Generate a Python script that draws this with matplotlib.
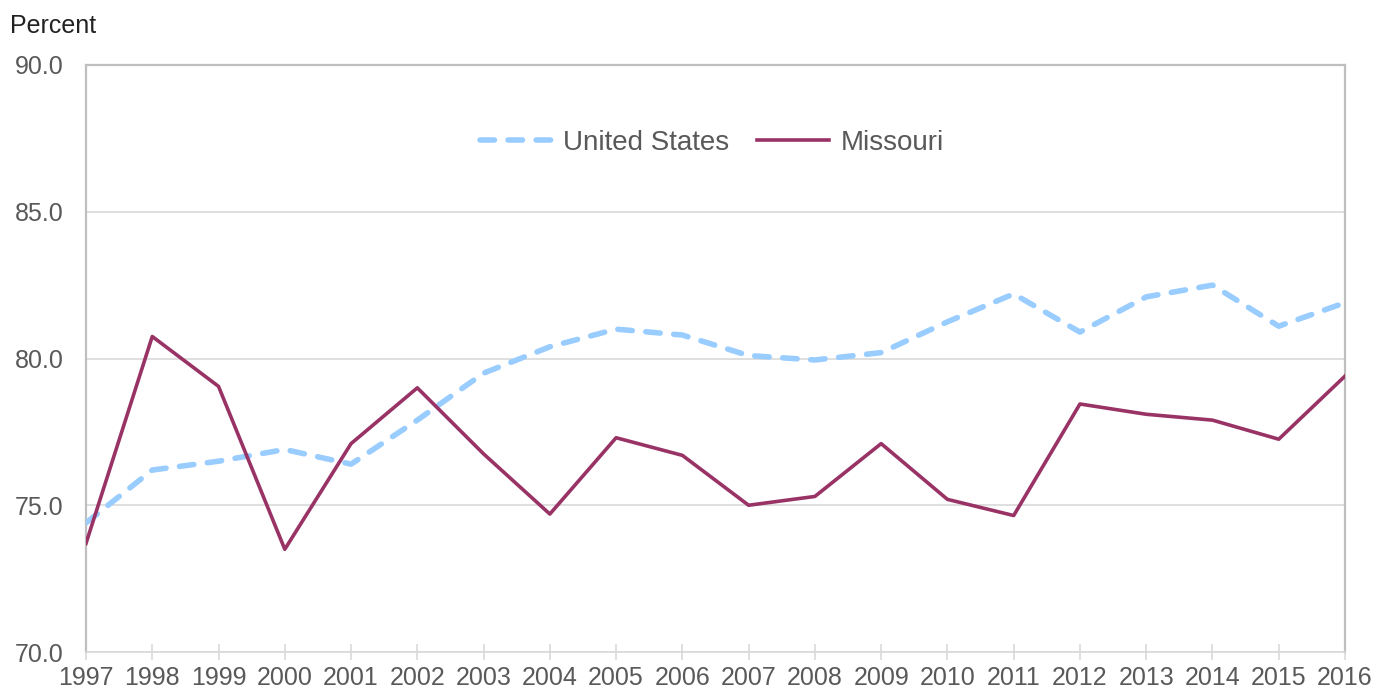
import matplotlib
matplotlib.use("Agg")
import matplotlib.pyplot as plt

plt.rcParams['font.family'] = ['Liberation Sans', 'DejaVu Sans']

years = list(range(1997, 2017))
us = [74.4, 76.2, 76.5, 76.9, 76.4, 77.9, 79.5, 80.4, 81.0, 80.8,
      80.1, 79.95, 80.2, 81.25, 82.2, 80.9, 82.1, 82.5, 81.1, 81.9]
missouri = [73.7, 80.75, 79.05, 73.5, 77.1, 79.0, 76.75, 74.7, 77.3, 76.7,
            75.0, 75.3, 77.1, 75.2, 74.65, 78.45, 78.1, 77.9, 77.25, 79.4]
yticks = [70.0, 75.0, 80.0, 85.0, 90.0]

txt = '#595959'

fig = plt.figure(figsize=(13.77, 6.92), dpi=100)
ax = fig.add_axes([86/1377, 1 - 652/692, (1345 - 86)/1377, (652 - 65)/692])

ax.plot(years, us, color='#99CCFF', lw=4, linestyle=(0, (2.6, 2.45)),
        dash_capstyle='round', label='United States', zorder=3)
ax.plot(years, missouri, color='#993366', lw=2.6, label='Missouri', zorder=4)

ax.set_xlim(1997, 2016)
ax.set_ylim(70, 90)
ax.set_yticks(yticks)
ax.set_yticklabels([f'{v:.1f}' for v in yticks])
ax.set_xticks(years)
ax.grid(axis='y', color='#d9d9d9', lw=1.2)
ax.set_axisbelow(True)

for s in ['left', 'right', 'top']:
    ax.spines[s].set_color('#bfbfbf')
    ax.spines[s].set_linewidth(1.6)
ax.spines['bottom'].set_color('#d9d9d9')
ax.spines['bottom'].set_linewidth(1.2)

ax.tick_params(axis='y', length=0, pad=16, labelsize=18, labelcolor=txt)
ax.tick_params(axis='x', direction='inout', length=12, width=1.2,
               color='#d9d9d9', pad=4, labelsize=18, labelcolor=txt)

fig.text(10/1377, 1 - 33/692, 'Percent', fontsize=18,
         color='#222222', ha='left', va='baseline')

leg = ax.legend(loc='center', bbox_to_anchor=(0.497, 1 - (143 - 65)/587), ncol=2,
                frameon=False, fontsize=20, handlelength=2.6,
                columnspacing=1.0, handletextpad=0.4)
for t in leg.get_texts():
    t.set_color(txt)

fig.savefig('out.png', dpi=100)
